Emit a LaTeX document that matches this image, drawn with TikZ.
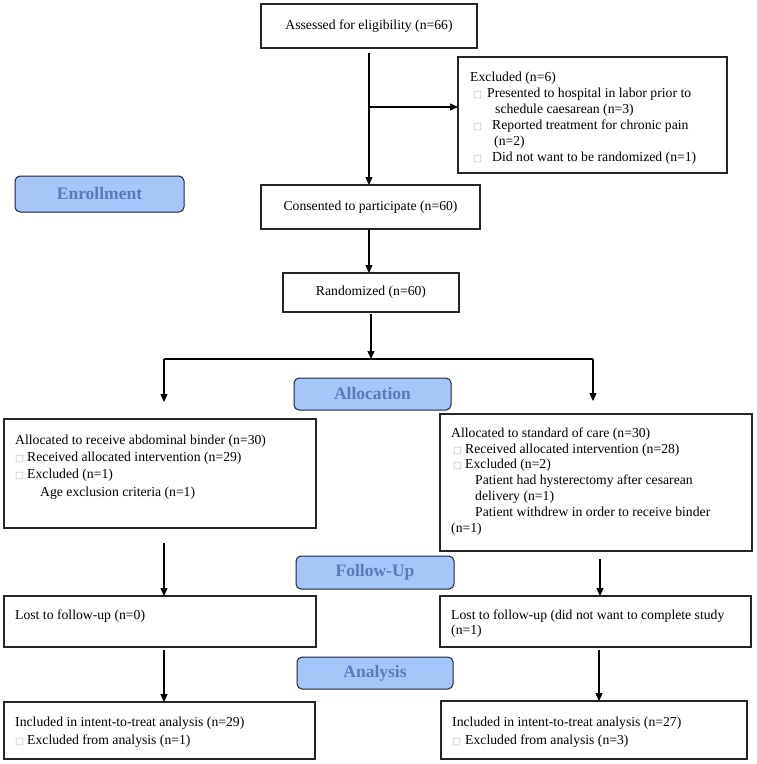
\documentclass[tikz,border=0pt]{standalone}
\usepackage{fontspec}
\setmainfont{Liberation Serif}
\newfontfamily\symfont{DejaVu Sans}
\usetikzlibrary{arrows.meta,calc}
\newcommand{\bx}{{\symfont\fontsize{9.5}{9.5}\selectfont\color{black!28}□}}
\definecolor{lblfill}{RGB}{166,198,250}
\definecolor{lbltext}{RGB}{84,125,185}
\definecolor{lbldraw}{RGB}{30,35,55}
\begin{document}
\begin{tikzpicture}[x=1pt,y=-1pt,
 box/.style={draw=black!85, line width=1.1pt, inner sep=0pt, outer sep=0pt},
 stage/.style={draw=lbldraw, line width=1pt, fill=lblfill, rounded corners=5pt, inner sep=0pt, outer sep=0pt, font=\fontsize{17.5}{20}\selectfont\bfseries, text=lbltext},
 txt/.style={anchor=north west, align=left, inner sep=0pt},
 ctxt/.style={font=\fontsize{13.7}{16}\selectfont},
 arr/.style={line width=1.3pt, -{Triangle[length=8pt,width=7pt]}},
 ln/.style={line width=1.3pt}]
\useasboundingbox (0,0) rectangle (756,764);

% boxes
\node[box, ctxt, minimum width=216pt, minimum height=44pt] (assess) at (369,26) {Assessed for eligibility (n=66)};
\node[box, minimum width=269pt, minimum height=116pt] (excl) at (592.5,115) {};
\node[box, ctxt, minimum width=219pt, minimum height=44pt] (consent) at (370.5,207) {Consented to participate (n=60)};
\node[box, ctxt, minimum width=176pt, minimum height=39pt] (random) at (371,292.5) {Randomized (n=60)};
\node[box, minimum width=312pt, minimum height=109pt] (allocL) at (160,473.5) {};
\node[box, minimum width=312pt, minimum height=137pt] (allocR) at (596,482.5) {};
\node[box, minimum width=312pt, minimum height=51pt] (lostL) at (160,621.5) {};
\node[box, minimum width=311pt, minimum height=51pt] (lostR) at (595.5,621.5) {};
\node[box, minimum width=311pt, minimum height=57pt] (inclL) at (159.5,730.5) {};
\node[box, minimum width=306pt, minimum height=58pt] (inclR) at (594,730) {};

% stage labels
\node[stage, minimum width=169pt, minimum height=36pt] (enroll) at (99.5,194) {Enrollment};
\node[stage, minimum width=157pt, minimum height=32pt] (alloc) at (372.5,394) {Allocation};
\node[stage, minimum width=158pt, minimum height=33pt] (follow) at (375,572.5) {Follow-Up};
\node[stage, minimum width=156pt, minimum height=32pt] (analysis) at (375,673) {Analysis};

% box texts
\node[txt, font=\fontsize{13.7}{16}\selectfont] (t-excl) at (470,71.5) {Excluded (n=6)\\
\hspace*{3pt}\makebox[14pt][l]{\bx}Presented to hospital in labor prior to\\
\hspace*{25pt}schedule caesarean (n=3)\\
\hspace*{3pt}\makebox[19pt][l]{\bx}Reported treatment for chronic pain\\
\hspace*{24pt}(n=2)\\
\hspace*{3pt}\makebox[19pt][l]{\bx}Did not want to be randomized (n=1)};

\node[txt, font=\fontsize{13.7}{17.3}\selectfont] (t-allocL) at (15,434.5) {Allocated to receive abdominal binder (n=30)\\
\makebox[12pt][l]{\bx}Received allocated intervention (n=29)\\
\makebox[12pt][l]{\bx}Excluded (n=1)\\
\hspace*{25pt}Age exclusion criteria (n=1)};

\node[txt, font=\fontsize{13.7}{15.8}\selectfont] (t-allocR) at (451,427.5) {Allocated to standard of care (n=30)\\
\hspace*{2pt}\makebox[12pt][l]{\bx}Received allocated intervention (n=28)\\
\hspace*{2pt}\makebox[12pt][l]{\bx}Excluded (n=2)\\
\hspace*{24pt}Patient had hysterectomy after cesarean\\
\hspace*{24pt}delivery (n=1)\\
\hspace*{24pt}Patient withdrew in order to receive binder\\
(n=1)};

\node[txt, font=\fontsize{13.7}{15}\selectfont] (t-lostL) at (15,609.5) {Lost to follow-up (n=0)};
\node[txt, font=\fontsize{13.7}{15}\selectfont] (t-lostR) at (451,609.5) {Lost to follow-up (did not want to complete study\\(n=1)};

\node[txt, font=\fontsize{13.7}{18}\selectfont] (t-inclL) at (15,716.5) {Included in intent-to-treat analysis (n=29)\\
\makebox[12pt][l]{\bx}Excluded from analysis (n=1)};
\node[txt, font=\fontsize{13.7}{18}\selectfont] (t-inclR) at (452,716.5) {Included in intent-to-treat analysis (n=27)\\
\makebox[13pt][l]{\bx}Excluded from analysis (n=3)};

% connectors
\coordinate (br) at (369,107);
\draw[arr, shorten <=5pt] (br |- assess.south) -- (br |- consent.north);
\draw[arr] (br) -- (br -| excl.west);
\draw[arr] (br |- consent.south) -- (br |- random.north);
\coordinate (sl) at (164,359);
\coordinate (sr) at (593,359);
\draw[arr, shorten <=2pt] (random.south) -- (random.south |- sl);
\draw[ln] (sl) -- (sr);
\draw[arr, shorten >=17pt] (sl) -- (sl |- allocL.north);
\draw[arr, shorten >=13pt] (sr) -- (sr |- allocR.north);
\draw[arr, shorten <=15pt] (sl |- allocL.south) -- (sl |- lostL.north);
\coordinate (rx) at (600,0);
\draw[arr, shorten <=8pt] (rx |- allocR.south) -- (rx |- lostR.north);
\draw[arr, shorten <=3pt] (sl |- lostL.south) -- (sl |- inclL.north);
\coordinate (rx2) at (599,0);
\draw[arr, shorten <=3pt] (rx2 |- lostR.south) -- (rx2 |- inclR.north);
\end{tikzpicture}
\end{document}
